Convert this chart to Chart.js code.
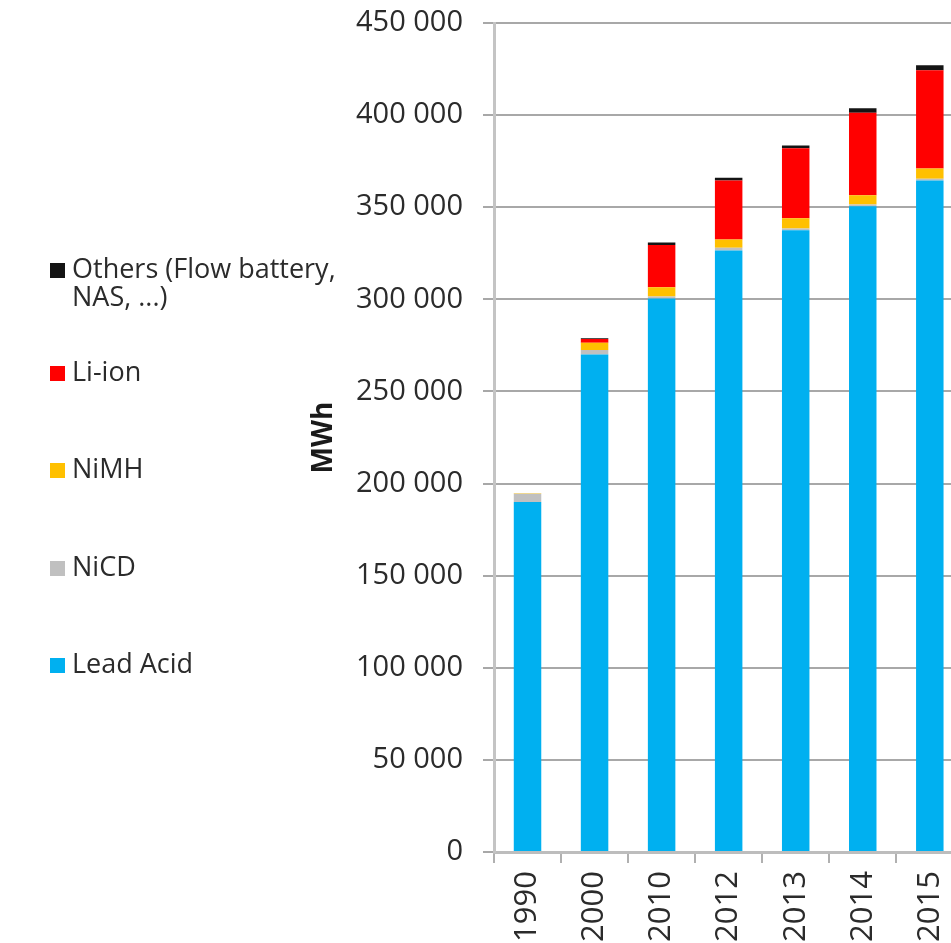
<!DOCTYPE html>
<html>
<head>
<meta charset="utf-8">
<script src="https://cdn.jsdelivr.net/npm/chart.js@4.4.1/dist/chart.umd.min.js"></script>
<style>
  html, body { margin: 0; padding: 0; background: #fff; overflow: hidden; }
  #wrap { width: 975px; height: 943px; }
</style>
</head>
<body>
<div id="wrap"><canvas id="chart" width="975" height="943"></canvas></div>
<script>
'use strict';

// ── Data (MWh) ───────────────────────────────────────────────────────────────

const years     = ['1990', '2000', '2010', '2012', '2013', '2014', '2015'];
const leadAcid  = [190000, 270000, 300500, 326500, 337500, 350500, 364500];
const niCd      = [  4500,   2500,   1000,   1500,   1000,   1000,   1000];
const niMh      = [   300,   4000,   5000,   4500,   5500,   5000,   5500];
const liIon     = [     0,   2000,  23000,  32000,  38000,  44800,  53300];
const others    = [     0,    400,   1300,   1500,   1500,   2400,   2800];

const yTicks    = [0, 50000, 100000, 150000, 200000, 250000, 300000, 350000, 400000, 450000];

// legend text, top to bottom (two-line label for "Others")
const legendLabels = [
  ['Others (Flow battery,', 'NAS, ...)'],
  ['Li-ion'],
  ['NiMH'],
  ['NiCD'],
  ['Lead Acid'],
];

// ── Styles / layout ──────────────────────────────────────────────────────────

const COLORS = {
  lead:   '#00b0f0',
  nicd:   '#c0c0c0',
  nimh:   '#ffc000',
  liion:  '#ff0000',
  others: '#141414',
};
const LEGEND_COLORS = [COLORS.others, COLORS.liion, COLORS.nimh, COLORS.nicd, COLORS.lead];
const LEGEND_Y      = [270, 373, 470, 568, 665];   // centre of first text line
const LEGEND_LINE_H = 28;
const FONT          = '"Open Sans", "DejaVu Sans", sans-serif';
const TEXT_COLOR    = '#2b2b2b';

const PAD_LEFT   = 300;   // room for the hand-drawn legend
const PAD_TOP    = 23;    // 450 000 grid line
const AXIS_X     = 494;   // pixel of the value axis
const AXIS_Y     = 852;   // pixel of the category axis
const CANVAS_H   = 943;

// ── Side legend plugin ───────────────────────────────────────────────────────

const sideLegend = {
  id: 'sideLegend',
  afterDraw(chart) {
    const ctx = chart.ctx;
    ctx.save();
    ctx.font = '27px ' + FONT;
    ctx.textBaseline = 'middle';
    ctx.textAlign = 'left';
    legendLabels.forEach((lines, i) => {
      const y = LEGEND_Y[i];
      ctx.fillStyle = LEGEND_COLORS[i];
      ctx.fillRect(50, y - 7, 15, 15);
      ctx.fillStyle = TEXT_COLOR;
      lines.forEach((t, j) => ctx.fillText(t, 72, y + j * LEGEND_LINE_H));
    });
    ctx.restore();
  },
};

// ── Chart ────────────────────────────────────────────────────────────────────

function fmtThousands(v) {
  return String(v).replace(/\B(?=(\d{3})+(?!\d))/g, ' ');
}

function barSet(label, data, color) {
  return {
    label,
    data,
    backgroundColor: color,
    borderWidth: 0,
    barPercentage: 0.41,
    categoryPercentage: 1,
  };
}

function buildChart() {
  new Chart(document.getElementById('chart'), {
    type: 'bar',
    data: {
      labels: years,
      datasets: [
        barSet('Lead Acid', leadAcid, COLORS.lead),
        barSet('NiCD', niCd, COLORS.nicd),
        barSet('NiMH', niMh, COLORS.nimh),
        barSet('Li-ion', liIon, COLORS.liion),
        barSet('Others (Flow battery, NAS, ...)', others, COLORS.others),
      ],
    },
    options: {
      responsive: false,
      animation: false,
      layout: { padding: { left: PAD_LEFT, top: PAD_TOP, right: 0, bottom: 0 } },
      plugins: {
        legend:  { display: false },
        tooltip: { enabled: false },
      },
      scales: {
        x: {
          stacked: true,
          grid:   { drawOnChartArea: false, drawTicks: true, tickLength: 11, color: '#b0b0b0', lineWidth: 2 },
          border: { color: '#bdbdbd', width: 3 },
          ticks:  {
            color: TEXT_COLOR,
            font: { family: FONT, size: 31 },
            minRotation: 90,
            maxRotation: 90,
            padding: 8,
          },
          afterFit(scale) {
            scale.height = CANVAS_H - AXIS_Y;
            scale.paddingTop = 0;
            scale.paddingBottom = 0;
          },
        },
        y: {
          stacked: true,
          min: 0,
          max: yTicks[yTicks.length - 1],
          afterBuildTicks(scale) { scale.ticks = yTicks.map(v => ({ value: v })); },
          grid:   { color: '#a8a8a8', lineWidth: 2, tickLength: 11 },
          border: { color: '#c4c4c4', width: 3 },
          ticks:  {
            color: TEXT_COLOR,
            font: { family: FONT, size: 29 },
            padding: 20,
            callback: v => fmtThousands(v),
          },
          title: {
            display: true,
            text: 'MWh',
            color: '#1a1a1a',
            font: { family: FONT, size: 28, weight: 'bold' },
            padding: { top: 7, bottom: 0 },
          },
          afterFit(scale) {
            scale.width = AXIS_X - PAD_LEFT;
            scale.paddingTop = 0;
            scale.paddingBottom = 0;
          },
        },
      },
    },
    plugins: [sideLegend],
  });
}

Promise.all([
  document.fonts.load('27px "Open Sans"'),
  document.fonts.load('bold 28px "Open Sans"'),
]).then(buildChart, buildChart);
</script>
</body>
</html>
